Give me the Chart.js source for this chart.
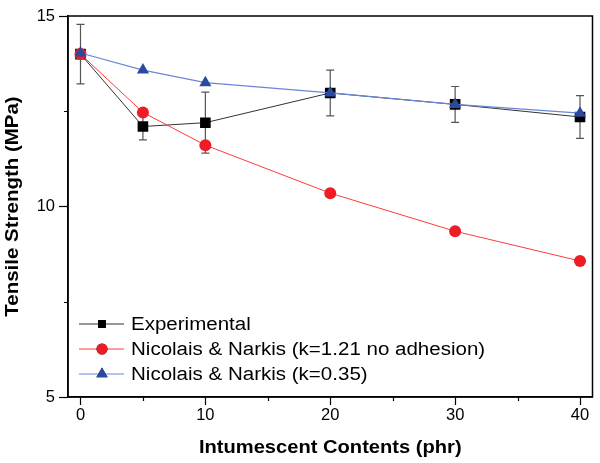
<!DOCTYPE html>
<html>
<head>
<meta charset="utf-8">
<script src="https://cdn.jsdelivr.net/npm/chart.js@4"></script>
<style>
  html, body { margin: 0; padding: 0; background: #fff; }
  #wrap { width: 600px; height: 463px; }
</style>
</head>
<body>
<div id="wrap"><canvas id="chart" width="600" height="463"></canvas></div>
<script>
// phr of intumescent additive
const contents = [0, 5, 10, 20, 30, 40];

const experimental = [14.0, 12.1, 12.2, 12.98, 12.68, 12.35];
const experimentalErr = [0.78, 0.35, 0.8, 0.6, 0.47, 0.56];
const noAdhesion = [14.0, 12.47, 11.61, 10.35, 9.35, 8.57];
const kLow = [14.03, 13.58, 13.25, 12.98, 12.68, 12.45];

const seriesNames = [
  'Experimental',
  'Nicolais & Narkis (k=1.21 no adhesion)',
  'Nicolais & Narkis (k=0.35)'
];
const xTicks = [0, 5, 10, 15, 20, 25, 30, 35, 40];
const yTicks = [5, 7.5, 10, 12.5, 15];
const xTitle = 'Intumescent Contents (phr)';
const yTitle = 'Tensile Strength (MPa)';

const FONT = '"Liberation Sans", Arial, sans-serif';

const toPts = (vals) => contents.map((x, i) => ({ x: x, y: vals[i] }));
const isMinorX = (v) => v % 10 !== 0;
const isMinorY = (v) => v % 5 !== 0;

// text in the original is a bit wider than Arial, so squeeze it out
function wideText(ctx, text, x, y, sx, rot, align) {
  ctx.save();
  ctx.translate(x, y);
  if (rot) ctx.rotate(rot);
  ctx.scale(sx, 1);
  ctx.textAlign = align || 'center';
  ctx.fillText(text, 0, 0);
  ctx.restore();
}

// error bars under the markers
const errorBars = {
  id: 'errorBars',
  beforeDatasetsDraw(chart) {
    const ctx = chart.ctx;
    const xs = chart.scales.x, ys = chart.scales.y;
    ctx.save();
    ctx.strokeStyle = '#555';
    ctx.lineWidth = 1.2;
    contents.forEach((c, i) => {
      const px = xs.getPixelForValue(c);
      const top = ys.getPixelForValue(experimental[i] + experimentalErr[i]);
      const bot = ys.getPixelForValue(experimental[i] - experimentalErr[i]);
      ctx.beginPath();
      ctx.moveTo(px, top); ctx.lineTo(px, bot);
      ctx.moveTo(px - 4, top); ctx.lineTo(px + 4, top);
      ctx.moveTo(px - 4, bot); ctx.lineTo(px + 4, bot);
      ctx.stroke();
    });
    ctx.restore();
  }
};

// frame, short minor ticks, titles, legend
const decorations = {
  id: 'decorations',
  afterDraw(chart) {
    const ctx = chart.ctx;
    const a = chart.chartArea;
    const xs = chart.scales.x, ys = chart.scales.y;
    ctx.save();
    ctx.strokeStyle = '#000';
    ctx.lineWidth = 1.5;
    ctx.strokeRect(a.left, a.top, a.right - a.left, a.bottom - a.top);

    ctx.lineWidth = 1.2;
    ctx.beginPath();
    xTicks.filter(isMinorX).forEach(v => {
      const px = Math.round(xs.getPixelForValue(v)) + 0.5;
      ctx.moveTo(px, a.bottom); ctx.lineTo(px, a.bottom + 4);
    });
    yTicks.filter(isMinorY).forEach(v => {
      const py = Math.round(ys.getPixelForValue(v)) + 0.5;
      ctx.moveTo(a.left, py); ctx.lineTo(a.left - 4, py);
    });
    ctx.stroke();

    ctx.fillStyle = '#000';
    ctx.textBaseline = 'alphabetic';
    ctx.font = 'bold 17.5px ' + FONT;
    wideText(ctx, xTitle, (a.left + a.right) / 2, 453, 1.15, 0);
    wideText(ctx, yTitle, 17.5, (a.top + a.bottom) / 2, 1.17, -Math.PI / 2);

    const rows = [324, 349, 374];
    chart.data.datasets.forEach((ds, i) => {
      const y = rows[i];
      ctx.strokeStyle = ds.borderColor;
      ctx.lineWidth = 1;
      ctx.beginPath();
      ctx.moveTo(79, y); ctx.lineTo(124, y);
      ctx.stroke();
      Chart.helpers.drawPoint(ctx, {
        pointStyle: ds.pointStyle,
        radius: ds.legendRadius,
        borderWidth: 0
      }, 102, y);
      ctx.fillStyle = ds.pointBackgroundColor;
      ctx.fill();
      ctx.fillStyle = '#000';
      ctx.font = '18px ' + FONT;
      ctx.textBaseline = 'middle';
      wideText(ctx, seriesNames[i], 131, y + 1, 1.14, 0, 'left');
    });
    ctx.restore();
  }
};

new Chart(document.getElementById('chart'), {
  type: 'line',
  data: {
    datasets: [
      {
        label: seriesNames[0],
        data: toPts(experimental),
        borderColor: '#333',
        borderWidth: 1,
        pointStyle: 'rect',
        pointRadius: 7.5,
        legendRadius: 5.5,
        pointBackgroundColor: '#000',
        pointBorderWidth: 0,
        order: 3
      },
      {
        label: seriesNames[1],
        data: toPts(noAdhesion),
        borderColor: '#ff3b3b',
        borderWidth: 1,
        pointStyle: 'circle',
        pointRadius: 6,
        legendRadius: 5.5,
        pointBackgroundColor: '#ee1c24',
        pointBorderWidth: 0,
        order: 2
      },
      {
        label: seriesNames[2],
        data: toPts(kLow),
        borderColor: '#6a86d8',
        borderWidth: 1.2,
        pointStyle: 'triangle',
        pointRadius: 7,
        legendRadius: 6.5,
        pointBackgroundColor: '#2a4aa0',
        pointBorderWidth: 0,
        order: 1
      }
    ]
  },
  options: {
    responsive: false,
    animation: false,
    layout: { padding: { top: 16, right: 7, left: 0, bottom: 0 } },
    plugins: {
      legend: { display: false },
      tooltip: { enabled: false }
    },
    scales: {
      x: {
        type: 'linear',
        min: -1,
        max: 41,
        afterFit: (s) => { s.height = 66; },
        afterBuildTicks: (s) => { s.ticks = xTicks.map(v => ({ value: v })); },
        border: { display: true, color: '#000', width: 1.5 },
        grid: {
          drawOnChartArea: false,
          tickLength: 8,
          tickWidth: 1.2,
          tickColor: (c) => (c.tick && isMinorX(c.tick.value) ? 'rgba(0,0,0,0)' : '#000')
        },
        ticks: {
          padding: 1,
          color: '#000',
          autoSkip: false,
          maxRotation: 0,
          font: { family: FONT, size: 16.5 },
          callback: (v) => (isMinorX(v) ? '' : v)
        },
        title: { display: false }
      },
      y: {
        min: 5,
        max: 15,
        afterFit: (s) => { s.width = 68; },
        afterBuildTicks: (s) => { s.ticks = yTicks.map(v => ({ value: v })); },
        border: { display: true, color: '#000', width: 1.5 },
        grid: {
          drawOnChartArea: false,
          tickLength: 9,
          tickWidth: 1.2,
          tickColor: (c) => (c.tick && isMinorY(c.tick.value) ? 'rgba(0,0,0,0)' : '#000')
        },
        ticks: {
          padding: 4,
          color: '#000',
          autoSkip: false,
          font: { family: FONT, size: 16.5 },
          callback: (v) => (isMinorY(v) ? '' : v)
        },
        title: { display: false }
      }
    }
  },
  plugins: [errorBars, decorations]
});
</script>
</body>
</html>
